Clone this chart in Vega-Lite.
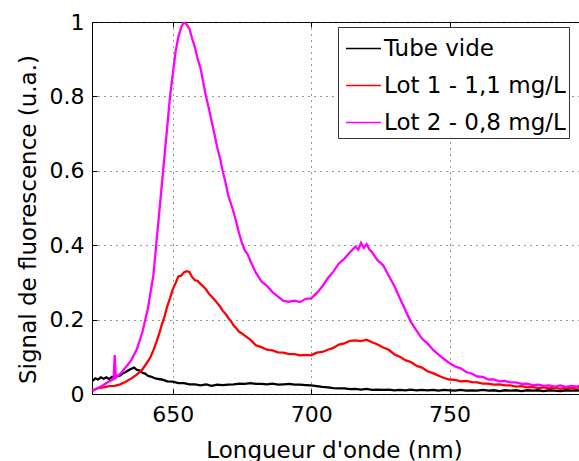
{
  "$schema": "https://vega.github.io/schema/vega-lite/v6.json",
  "width": 496,
  "height": 372,
  "autosize": {"type": "none"},
  "padding": {"left": 92, "top": 22, "right": 0, "bottom": 67},
  "background": "white",
  "config": {
    "font": "DejaVu Sans",
    "view": {"stroke": "black", "strokeWidth": 1},
    "axis": {
      "domain": false,
      "tickColor": "black",
      "tickSize": -5,
      "tickWidth": 1,
      "labelColor": "black",
      "labelFontSize": 22,
      "titleColor": "black",
      "titleFontSize": 23,
      "titleFontWeight": "normal",
      "gridColor": "#333333",
      "gridDash": [1, 5],
      "gridWidth": 1,
      "gridOpacity": 1
    }
  },
  "data": {
    "values": [
      {"s": "Tube vide", "nm": 621, "v": 0.035}, {"s": "Tube vide", "nm": 622, "v": 0.042}, {"s": "Tube vide", "nm": 623, "v": 0.039},
      {"s": "Tube vide", "nm": 624, "v": 0.045}, {"s": "Tube vide", "nm": 625, "v": 0.041}, {"s": "Tube vide", "nm": 626, "v": 0.045},
      {"s": "Tube vide", "nm": 627, "v": 0.04}, {"s": "Tube vide", "nm": 628, "v": 0.046}, {"s": "Tube vide", "nm": 629, "v": 0.042},
      {"s": "Tube vide", "nm": 630, "v": 0.048}, {"s": "Tube vide", "nm": 631, "v": 0.05}, {"s": "Tube vide", "nm": 632, "v": 0.056},
      {"s": "Tube vide", "nm": 633, "v": 0.059}, {"s": "Tube vide", "nm": 634, "v": 0.064}, {"s": "Tube vide", "nm": 635, "v": 0.068},
      {"s": "Tube vide", "nm": 636, "v": 0.071}, {"s": "Tube vide", "nm": 637, "v": 0.065}, {"s": "Tube vide", "nm": 638, "v": 0.063},
      {"s": "Tube vide", "nm": 639, "v": 0.057}, {"s": "Tube vide", "nm": 640, "v": 0.055}, {"s": "Tube vide", "nm": 641, "v": 0.049},
      {"s": "Tube vide", "nm": 642, "v": 0.047}, {"s": "Tube vide", "nm": 644, "v": 0.041}, {"s": "Tube vide", "nm": 646, "v": 0.039},
      {"s": "Tube vide", "nm": 648, "v": 0.034}, {"s": "Tube vide", "nm": 650, "v": 0.033}, {"s": "Tube vide", "nm": 652, "v": 0.029},
      {"s": "Tube vide", "nm": 654, "v": 0.029}, {"s": "Tube vide", "nm": 656, "v": 0.026}, {"s": "Tube vide", "nm": 658, "v": 0.026},
      {"s": "Tube vide", "nm": 660, "v": 0.023}, {"s": "Tube vide", "nm": 662, "v": 0.026}, {"s": "Tube vide", "nm": 664, "v": 0.022},
      {"s": "Tube vide", "nm": 666, "v": 0.025}, {"s": "Tube vide", "nm": 668, "v": 0.024}, {"s": "Tube vide", "nm": 670, "v": 0.025},
      {"s": "Tube vide", "nm": 672, "v": 0.026}, {"s": "Tube vide", "nm": 674, "v": 0.028}, {"s": "Tube vide", "nm": 676, "v": 0.027},
      {"s": "Tube vide", "nm": 678, "v": 0.029}, {"s": "Tube vide", "nm": 680, "v": 0.027}, {"s": "Tube vide", "nm": 682, "v": 0.027},
      {"s": "Tube vide", "nm": 684, "v": 0.026}, {"s": "Tube vide", "nm": 686, "v": 0.028}, {"s": "Tube vide", "nm": 688, "v": 0.025},
      {"s": "Tube vide", "nm": 690, "v": 0.026}, {"s": "Tube vide", "nm": 692, "v": 0.027}, {"s": "Tube vide", "nm": 694, "v": 0.025},
      {"s": "Tube vide", "nm": 696, "v": 0.025}, {"s": "Tube vide", "nm": 698, "v": 0.024}, {"s": "Tube vide", "nm": 700, "v": 0.023},
      {"s": "Tube vide", "nm": 702, "v": 0.021}, {"s": "Tube vide", "nm": 704, "v": 0.019}, {"s": "Tube vide", "nm": 706, "v": 0.018},
      {"s": "Tube vide", "nm": 708, "v": 0.016}, {"s": "Tube vide", "nm": 710, "v": 0.015}, {"s": "Tube vide", "nm": 712, "v": 0.015},
      {"s": "Tube vide", "nm": 714, "v": 0.013}, {"s": "Tube vide", "nm": 716, "v": 0.014}, {"s": "Tube vide", "nm": 718, "v": 0.012},
      {"s": "Tube vide", "nm": 720, "v": 0.014}, {"s": "Tube vide", "nm": 722, "v": 0.011}, {"s": "Tube vide", "nm": 724, "v": 0.012},
      {"s": "Tube vide", "nm": 726, "v": 0.011}, {"s": "Tube vide", "nm": 728, "v": 0.012}, {"s": "Tube vide", "nm": 730, "v": 0.01},
      {"s": "Tube vide", "nm": 732, "v": 0.011}, {"s": "Tube vide", "nm": 734, "v": 0.01}, {"s": "Tube vide", "nm": 736, "v": 0.012},
      {"s": "Tube vide", "nm": 738, "v": 0.01}, {"s": "Tube vide", "nm": 740, "v": 0.011}, {"s": "Tube vide", "nm": 742, "v": 0.01},
      {"s": "Tube vide", "nm": 744, "v": 0.011}, {"s": "Tube vide", "nm": 746, "v": 0.009}, {"s": "Tube vide", "nm": 748, "v": 0.011},
      {"s": "Tube vide", "nm": 750, "v": 0.01}, {"s": "Tube vide", "nm": 752, "v": 0.009}, {"s": "Tube vide", "nm": 754, "v": 0.011},
      {"s": "Tube vide", "nm": 756, "v": 0.009}, {"s": "Tube vide", "nm": 758, "v": 0.01}, {"s": "Tube vide", "nm": 760, "v": 0.009},
      {"s": "Tube vide", "nm": 762, "v": 0.011}, {"s": "Tube vide", "nm": 764, "v": 0.009}, {"s": "Tube vide", "nm": 766, "v": 0.01},
      {"s": "Tube vide", "nm": 768, "v": 0.008}, {"s": "Tube vide", "nm": 770, "v": 0.01}, {"s": "Tube vide", "nm": 772, "v": 0.009},
      {"s": "Tube vide", "nm": 774, "v": 0.01}, {"s": "Tube vide", "nm": 776, "v": 0.008}, {"s": "Tube vide", "nm": 778, "v": 0.01},
      {"s": "Tube vide", "nm": 780, "v": 0.009}, {"s": "Tube vide", "nm": 782, "v": 0.01}, {"s": "Tube vide", "nm": 784, "v": 0.008},
      {"s": "Tube vide", "nm": 786, "v": 0.01}, {"s": "Tube vide", "nm": 788, "v": 0.009}, {"s": "Tube vide", "nm": 790, "v": 0.008},
      {"s": "Tube vide", "nm": 792, "v": 0.01}, {"s": "Tube vide", "nm": 794, "v": 0.009}, {"s": "Tube vide", "nm": 796, "v": 0.01},
      {"s": "Tube vide", "nm": 797, "v": 0.009},

      {"s": "Lot 1 - 1,1 mg/L", "nm": 621, "v": 0.01}, {"s": "Lot 1 - 1,1 mg/L", "nm": 623, "v": 0.016}, {"s": "Lot 1 - 1,1 mg/L", "nm": 625, "v": 0.018},
      {"s": "Lot 1 - 1,1 mg/L", "nm": 627, "v": 0.021}, {"s": "Lot 1 - 1,1 mg/L", "nm": 629, "v": 0.022}, {"s": "Lot 1 - 1,1 mg/L", "nm": 631, "v": 0.026},
      {"s": "Lot 1 - 1,1 mg/L", "nm": 633, "v": 0.033}, {"s": "Lot 1 - 1,1 mg/L", "nm": 635, "v": 0.042}, {"s": "Lot 1 - 1,1 mg/L", "nm": 637, "v": 0.052},
      {"s": "Lot 1 - 1,1 mg/L", "nm": 639, "v": 0.066}, {"s": "Lot 1 - 1,1 mg/L", "nm": 641, "v": 0.088}, {"s": "Lot 1 - 1,1 mg/L", "nm": 642, "v": 0.1},
      {"s": "Lot 1 - 1,1 mg/L", "nm": 643, "v": 0.118}, {"s": "Lot 1 - 1,1 mg/L", "nm": 644, "v": 0.138}, {"s": "Lot 1 - 1,1 mg/L", "nm": 645, "v": 0.16},
      {"s": "Lot 1 - 1,1 mg/L", "nm": 646, "v": 0.186}, {"s": "Lot 1 - 1,1 mg/L", "nm": 647, "v": 0.208}, {"s": "Lot 1 - 1,1 mg/L", "nm": 648, "v": 0.236},
      {"s": "Lot 1 - 1,1 mg/L", "nm": 649, "v": 0.258}, {"s": "Lot 1 - 1,1 mg/L", "nm": 650, "v": 0.282}, {"s": "Lot 1 - 1,1 mg/L", "nm": 651, "v": 0.298},
      {"s": "Lot 1 - 1,1 mg/L", "nm": 652, "v": 0.316}, {"s": "Lot 1 - 1,1 mg/L", "nm": 653, "v": 0.318}, {"s": "Lot 1 - 1,1 mg/L", "nm": 654, "v": 0.327},
      {"s": "Lot 1 - 1,1 mg/L", "nm": 655, "v": 0.33}, {"s": "Lot 1 - 1,1 mg/L", "nm": 656, "v": 0.328}, {"s": "Lot 1 - 1,1 mg/L", "nm": 657, "v": 0.314},
      {"s": "Lot 1 - 1,1 mg/L", "nm": 658, "v": 0.306}, {"s": "Lot 1 - 1,1 mg/L", "nm": 659, "v": 0.304}, {"s": "Lot 1 - 1,1 mg/L", "nm": 660, "v": 0.296},
      {"s": "Lot 1 - 1,1 mg/L", "nm": 661, "v": 0.289}, {"s": "Lot 1 - 1,1 mg/L", "nm": 662, "v": 0.281}, {"s": "Lot 1 - 1,1 mg/L", "nm": 663, "v": 0.27},
      {"s": "Lot 1 - 1,1 mg/L", "nm": 664, "v": 0.262}, {"s": "Lot 1 - 1,1 mg/L", "nm": 665, "v": 0.254}, {"s": "Lot 1 - 1,1 mg/L", "nm": 666, "v": 0.245},
      {"s": "Lot 1 - 1,1 mg/L", "nm": 667, "v": 0.236}, {"s": "Lot 1 - 1,1 mg/L", "nm": 668, "v": 0.224}, {"s": "Lot 1 - 1,1 mg/L", "nm": 669, "v": 0.216},
      {"s": "Lot 1 - 1,1 mg/L", "nm": 670, "v": 0.205}, {"s": "Lot 1 - 1,1 mg/L", "nm": 671, "v": 0.196}, {"s": "Lot 1 - 1,1 mg/L", "nm": 672, "v": 0.184},
      {"s": "Lot 1 - 1,1 mg/L", "nm": 673, "v": 0.176}, {"s": "Lot 1 - 1,1 mg/L", "nm": 674, "v": 0.167}, {"s": "Lot 1 - 1,1 mg/L", "nm": 675, "v": 0.163},
      {"s": "Lot 1 - 1,1 mg/L", "nm": 676, "v": 0.157}, {"s": "Lot 1 - 1,1 mg/L", "nm": 678, "v": 0.146}, {"s": "Lot 1 - 1,1 mg/L", "nm": 680, "v": 0.131},
      {"s": "Lot 1 - 1,1 mg/L", "nm": 682, "v": 0.126}, {"s": "Lot 1 - 1,1 mg/L", "nm": 684, "v": 0.119}, {"s": "Lot 1 - 1,1 mg/L", "nm": 686, "v": 0.117},
      {"s": "Lot 1 - 1,1 mg/L", "nm": 688, "v": 0.112}, {"s": "Lot 1 - 1,1 mg/L", "nm": 690, "v": 0.111}, {"s": "Lot 1 - 1,1 mg/L", "nm": 692, "v": 0.107},
      {"s": "Lot 1 - 1,1 mg/L", "nm": 694, "v": 0.107}, {"s": "Lot 1 - 1,1 mg/L", "nm": 696, "v": 0.104}, {"s": "Lot 1 - 1,1 mg/L", "nm": 698, "v": 0.105},
      {"s": "Lot 1 - 1,1 mg/L", "nm": 700, "v": 0.104}, {"s": "Lot 1 - 1,1 mg/L", "nm": 702, "v": 0.111}, {"s": "Lot 1 - 1,1 mg/L", "nm": 704, "v": 0.113},
      {"s": "Lot 1 - 1,1 mg/L", "nm": 706, "v": 0.119}, {"s": "Lot 1 - 1,1 mg/L", "nm": 708, "v": 0.124}, {"s": "Lot 1 - 1,1 mg/L", "nm": 710, "v": 0.133},
      {"s": "Lot 1 - 1,1 mg/L", "nm": 712, "v": 0.136}, {"s": "Lot 1 - 1,1 mg/L", "nm": 714, "v": 0.143}, {"s": "Lot 1 - 1,1 mg/L", "nm": 716, "v": 0.144},
      {"s": "Lot 1 - 1,1 mg/L", "nm": 718, "v": 0.142}, {"s": "Lot 1 - 1,1 mg/L", "nm": 720, "v": 0.146}, {"s": "Lot 1 - 1,1 mg/L", "nm": 722, "v": 0.139},
      {"s": "Lot 1 - 1,1 mg/L", "nm": 724, "v": 0.133}, {"s": "Lot 1 - 1,1 mg/L", "nm": 726, "v": 0.125}, {"s": "Lot 1 - 1,1 mg/L", "nm": 728, "v": 0.119},
      {"s": "Lot 1 - 1,1 mg/L", "nm": 730, "v": 0.107}, {"s": "Lot 1 - 1,1 mg/L", "nm": 732, "v": 0.1}, {"s": "Lot 1 - 1,1 mg/L", "nm": 734, "v": 0.091},
      {"s": "Lot 1 - 1,1 mg/L", "nm": 736, "v": 0.086}, {"s": "Lot 1 - 1,1 mg/L", "nm": 738, "v": 0.076}, {"s": "Lot 1 - 1,1 mg/L", "nm": 740, "v": 0.071},
      {"s": "Lot 1 - 1,1 mg/L", "nm": 742, "v": 0.061}, {"s": "Lot 1 - 1,1 mg/L", "nm": 744, "v": 0.056}, {"s": "Lot 1 - 1,1 mg/L", "nm": 746, "v": 0.049},
      {"s": "Lot 1 - 1,1 mg/L", "nm": 748, "v": 0.043}, {"s": "Lot 1 - 1,1 mg/L", "nm": 750, "v": 0.039}, {"s": "Lot 1 - 1,1 mg/L", "nm": 752, "v": 0.038},
      {"s": "Lot 1 - 1,1 mg/L", "nm": 754, "v": 0.034}, {"s": "Lot 1 - 1,1 mg/L", "nm": 756, "v": 0.035}, {"s": "Lot 1 - 1,1 mg/L", "nm": 758, "v": 0.032},
      {"s": "Lot 1 - 1,1 mg/L", "nm": 760, "v": 0.031}, {"s": "Lot 1 - 1,1 mg/L", "nm": 762, "v": 0.028}, {"s": "Lot 1 - 1,1 mg/L", "nm": 764, "v": 0.028},
      {"s": "Lot 1 - 1,1 mg/L", "nm": 766, "v": 0.025}, {"s": "Lot 1 - 1,1 mg/L", "nm": 768, "v": 0.026}, {"s": "Lot 1 - 1,1 mg/L", "nm": 770, "v": 0.023},
      {"s": "Lot 1 - 1,1 mg/L", "nm": 772, "v": 0.023}, {"s": "Lot 1 - 1,1 mg/L", "nm": 774, "v": 0.02}, {"s": "Lot 1 - 1,1 mg/L", "nm": 776, "v": 0.021},
      {"s": "Lot 1 - 1,1 mg/L", "nm": 778, "v": 0.018}, {"s": "Lot 1 - 1,1 mg/L", "nm": 780, "v": 0.019}, {"s": "Lot 1 - 1,1 mg/L", "nm": 782, "v": 0.016},
      {"s": "Lot 1 - 1,1 mg/L", "nm": 784, "v": 0.018}, {"s": "Lot 1 - 1,1 mg/L", "nm": 786, "v": 0.015}, {"s": "Lot 1 - 1,1 mg/L", "nm": 788, "v": 0.017},
      {"s": "Lot 1 - 1,1 mg/L", "nm": 790, "v": 0.014}, {"s": "Lot 1 - 1,1 mg/L", "nm": 792, "v": 0.017}, {"s": "Lot 1 - 1,1 mg/L", "nm": 794, "v": 0.015},
      {"s": "Lot 1 - 1,1 mg/L", "nm": 796, "v": 0.018}, {"s": "Lot 1 - 1,1 mg/L", "nm": 797, "v": 0.016},

      {"s": "Lot 2 - 0,8 mg/L", "nm": 621, "v": 0.008}, {"s": "Lot 2 - 0,8 mg/L", "nm": 623, "v": 0.016}, {"s": "Lot 2 - 0,8 mg/L", "nm": 625, "v": 0.024},
      {"s": "Lot 2 - 0,8 mg/L", "nm": 627, "v": 0.034}, {"s": "Lot 2 - 0,8 mg/L", "nm": 628.6, "v": 0.04}, {"s": "Lot 2 - 0,8 mg/L", "nm": 629, "v": 0.105},
      {"s": "Lot 2 - 0,8 mg/L", "nm": 629.4, "v": 0.045}, {"s": "Lot 2 - 0,8 mg/L", "nm": 631, "v": 0.054}, {"s": "Lot 2 - 0,8 mg/L", "nm": 633, "v": 0.072},
      {"s": "Lot 2 - 0,8 mg/L", "nm": 635, "v": 0.091}, {"s": "Lot 2 - 0,8 mg/L", "nm": 637, "v": 0.12}, {"s": "Lot 2 - 0,8 mg/L", "nm": 639, "v": 0.166},
      {"s": "Lot 2 - 0,8 mg/L", "nm": 641, "v": 0.23}, {"s": "Lot 2 - 0,8 mg/L", "nm": 643, "v": 0.32}, {"s": "Lot 2 - 0,8 mg/L", "nm": 644, "v": 0.4},
      {"s": "Lot 2 - 0,8 mg/L", "nm": 645, "v": 0.48}, {"s": "Lot 2 - 0,8 mg/L", "nm": 646, "v": 0.56}, {"s": "Lot 2 - 0,8 mg/L", "nm": 647, "v": 0.64},
      {"s": "Lot 2 - 0,8 mg/L", "nm": 648, "v": 0.72}, {"s": "Lot 2 - 0,8 mg/L", "nm": 649, "v": 0.8}, {"s": "Lot 2 - 0,8 mg/L", "nm": 650, "v": 0.86},
      {"s": "Lot 2 - 0,8 mg/L", "nm": 651, "v": 0.92}, {"s": "Lot 2 - 0,8 mg/L", "nm": 652, "v": 0.96}, {"s": "Lot 2 - 0,8 mg/L", "nm": 653, "v": 0.985},
      {"s": "Lot 2 - 0,8 mg/L", "nm": 654, "v": 1.0}, {"s": "Lot 2 - 0,8 mg/L", "nm": 655, "v": 0.993}, {"s": "Lot 2 - 0,8 mg/L", "nm": 656, "v": 0.982},
      {"s": "Lot 2 - 0,8 mg/L", "nm": 657, "v": 0.955}, {"s": "Lot 2 - 0,8 mg/L", "nm": 658, "v": 0.932}, {"s": "Lot 2 - 0,8 mg/L", "nm": 659, "v": 0.9},
      {"s": "Lot 2 - 0,8 mg/L", "nm": 660, "v": 0.876}, {"s": "Lot 2 - 0,8 mg/L", "nm": 661, "v": 0.838}, {"s": "Lot 2 - 0,8 mg/L", "nm": 662, "v": 0.8},
      {"s": "Lot 2 - 0,8 mg/L", "nm": 663, "v": 0.768}, {"s": "Lot 2 - 0,8 mg/L", "nm": 664, "v": 0.734}, {"s": "Lot 2 - 0,8 mg/L", "nm": 665, "v": 0.7},
      {"s": "Lot 2 - 0,8 mg/L", "nm": 666, "v": 0.664}, {"s": "Lot 2 - 0,8 mg/L", "nm": 667, "v": 0.636}, {"s": "Lot 2 - 0,8 mg/L", "nm": 668, "v": 0.6},
      {"s": "Lot 2 - 0,8 mg/L", "nm": 669, "v": 0.57}, {"s": "Lot 2 - 0,8 mg/L", "nm": 670, "v": 0.535}, {"s": "Lot 2 - 0,8 mg/L", "nm": 671, "v": 0.512},
      {"s": "Lot 2 - 0,8 mg/L", "nm": 672, "v": 0.488}, {"s": "Lot 2 - 0,8 mg/L", "nm": 673, "v": 0.46}, {"s": "Lot 2 - 0,8 mg/L", "nm": 674, "v": 0.43},
      {"s": "Lot 2 - 0,8 mg/L", "nm": 675, "v": 0.406}, {"s": "Lot 2 - 0,8 mg/L", "nm": 676, "v": 0.386}, {"s": "Lot 2 - 0,8 mg/L", "nm": 677, "v": 0.376},
      {"s": "Lot 2 - 0,8 mg/L", "nm": 678, "v": 0.358}, {"s": "Lot 2 - 0,8 mg/L", "nm": 680, "v": 0.326}, {"s": "Lot 2 - 0,8 mg/L", "nm": 682, "v": 0.303},
      {"s": "Lot 2 - 0,8 mg/L", "nm": 684, "v": 0.291}, {"s": "Lot 2 - 0,8 mg/L", "nm": 686, "v": 0.274}, {"s": "Lot 2 - 0,8 mg/L", "nm": 688, "v": 0.262},
      {"s": "Lot 2 - 0,8 mg/L", "nm": 690, "v": 0.25}, {"s": "Lot 2 - 0,8 mg/L", "nm": 692, "v": 0.248}, {"s": "Lot 2 - 0,8 mg/L", "nm": 694, "v": 0.251},
      {"s": "Lot 2 - 0,8 mg/L", "nm": 696, "v": 0.247}, {"s": "Lot 2 - 0,8 mg/L", "nm": 698, "v": 0.256}, {"s": "Lot 2 - 0,8 mg/L", "nm": 700, "v": 0.257},
      {"s": "Lot 2 - 0,8 mg/L", "nm": 702, "v": 0.271}, {"s": "Lot 2 - 0,8 mg/L", "nm": 704, "v": 0.289}, {"s": "Lot 2 - 0,8 mg/L", "nm": 706, "v": 0.311},
      {"s": "Lot 2 - 0,8 mg/L", "nm": 708, "v": 0.329}, {"s": "Lot 2 - 0,8 mg/L", "nm": 710, "v": 0.351}, {"s": "Lot 2 - 0,8 mg/L", "nm": 712, "v": 0.364},
      {"s": "Lot 2 - 0,8 mg/L", "nm": 714, "v": 0.381}, {"s": "Lot 2 - 0,8 mg/L", "nm": 716, "v": 0.396}, {"s": "Lot 2 - 0,8 mg/L", "nm": 717, "v": 0.388},
      {"s": "Lot 2 - 0,8 mg/L", "nm": 718, "v": 0.406}, {"s": "Lot 2 - 0,8 mg/L", "nm": 719, "v": 0.393}, {"s": "Lot 2 - 0,8 mg/L", "nm": 720, "v": 0.403},
      {"s": "Lot 2 - 0,8 mg/L", "nm": 721, "v": 0.389}, {"s": "Lot 2 - 0,8 mg/L", "nm": 722, "v": 0.381}, {"s": "Lot 2 - 0,8 mg/L", "nm": 724, "v": 0.359},
      {"s": "Lot 2 - 0,8 mg/L", "nm": 726, "v": 0.346}, {"s": "Lot 2 - 0,8 mg/L", "nm": 728, "v": 0.318}, {"s": "Lot 2 - 0,8 mg/L", "nm": 730, "v": 0.291},
      {"s": "Lot 2 - 0,8 mg/L", "nm": 732, "v": 0.258}, {"s": "Lot 2 - 0,8 mg/L", "nm": 734, "v": 0.226}, {"s": "Lot 2 - 0,8 mg/L", "nm": 736, "v": 0.194},
      {"s": "Lot 2 - 0,8 mg/L", "nm": 738, "v": 0.171}, {"s": "Lot 2 - 0,8 mg/L", "nm": 740, "v": 0.149}, {"s": "Lot 2 - 0,8 mg/L", "nm": 742, "v": 0.136},
      {"s": "Lot 2 - 0,8 mg/L", "nm": 744, "v": 0.119}, {"s": "Lot 2 - 0,8 mg/L", "nm": 746, "v": 0.106}, {"s": "Lot 2 - 0,8 mg/L", "nm": 748, "v": 0.094},
      {"s": "Lot 2 - 0,8 mg/L", "nm": 750, "v": 0.083}, {"s": "Lot 2 - 0,8 mg/L", "nm": 752, "v": 0.074}, {"s": "Lot 2 - 0,8 mg/L", "nm": 754, "v": 0.069},
      {"s": "Lot 2 - 0,8 mg/L", "nm": 756, "v": 0.059}, {"s": "Lot 2 - 0,8 mg/L", "nm": 758, "v": 0.055}, {"s": "Lot 2 - 0,8 mg/L", "nm": 760, "v": 0.047},
      {"s": "Lot 2 - 0,8 mg/L", "nm": 762, "v": 0.046}, {"s": "Lot 2 - 0,8 mg/L", "nm": 764, "v": 0.039}, {"s": "Lot 2 - 0,8 mg/L", "nm": 766, "v": 0.039},
      {"s": "Lot 2 - 0,8 mg/L", "nm": 768, "v": 0.034}, {"s": "Lot 2 - 0,8 mg/L", "nm": 770, "v": 0.035}, {"s": "Lot 2 - 0,8 mg/L", "nm": 772, "v": 0.031},
      {"s": "Lot 2 - 0,8 mg/L", "nm": 774, "v": 0.031}, {"s": "Lot 2 - 0,8 mg/L", "nm": 776, "v": 0.027}, {"s": "Lot 2 - 0,8 mg/L", "nm": 778, "v": 0.028},
      {"s": "Lot 2 - 0,8 mg/L", "nm": 780, "v": 0.024}, {"s": "Lot 2 - 0,8 mg/L", "nm": 782, "v": 0.025}, {"s": "Lot 2 - 0,8 mg/L", "nm": 784, "v": 0.022},
      {"s": "Lot 2 - 0,8 mg/L", "nm": 786, "v": 0.023}, {"s": "Lot 2 - 0,8 mg/L", "nm": 788, "v": 0.02}, {"s": "Lot 2 - 0,8 mg/L", "nm": 790, "v": 0.023},
      {"s": "Lot 2 - 0,8 mg/L", "nm": 792, "v": 0.019}, {"s": "Lot 2 - 0,8 mg/L", "nm": 794, "v": 0.022}, {"s": "Lot 2 - 0,8 mg/L", "nm": 796, "v": 0.02},
      {"s": "Lot 2 - 0,8 mg/L", "nm": 797, "v": 0.022}
    ]
  },
  "resolve": {"axis": {"x": "independent"}},
  "layer": [
    {
      "mark": {"type": "line", "strokeWidth": 2.3, "clip": true},
      "encoding": {
        "x": {
          "field": "nm", "type": "quantitative",
          "scale": {"domain": [620.8, 800], "nice": false, "zero": false},
          "axis": {
            "values": [650, 700, 750],
            "title": "Longueur d'onde (nm)",
            "labelPadding": 15,
            "titleX": 242,
            "titleY": 63,
            "titleBaseline": "alphabetic",
            "titleAnchor": null
          }
        },
        "y": {
          "field": "v", "type": "quantitative",
          "scale": {"domain": [0, 1], "nice": false},
          "axis": {
            "values": [0, 0.2, 0.4, 0.6, 0.8, 1],
            "format": ".1~f",
            "title": "Signal de fluorescence (u.a.)",
            "labelPadding": 13,
            "titleX": -57,
            "titleY": 197,
            "titleBaseline": "alphabetic",
            "titleAnchor": null
          }
        },
        "color": {
          "field": "s", "type": "nominal",
          "scale": {
            "domain": ["Tube vide", "Lot 1 - 1,1 mg/L", "Lot 2 - 0,8 mg/L"],
            "range": ["#000000", "#ff0000", "#ff00ff"]
          },
          "legend": {
            "title": null,
            "orient": "none",
            "legendX": 246,
            "legendY": 5,
            "symbolType": "stroke",
            "symbolSize": 1225,
            "symbolStrokeWidth": 1.5,
            "symbolOffset": 4,
            "labelFontSize": 23,
            "labelColor": "black",
            "labelOffset": 2,
            "labelLimit": 400,
            "rowPadding": 6,
            "padding": 3,
            "strokeColor": "#333333",
            "fillColor": "white",
            "labelExpr": "datum.label + '      '"
          }
        }
      }
    },
    {
      "mark": {"type": "point", "opacity": 0},
      "encoding": {
        "x": {
          "field": "nm", "type": "quantitative",
          "axis": {"orient": "top", "values": [650, 700, 750], "labels": false, "grid": false, "title": null}
        }
      }
    }
  ]
}
